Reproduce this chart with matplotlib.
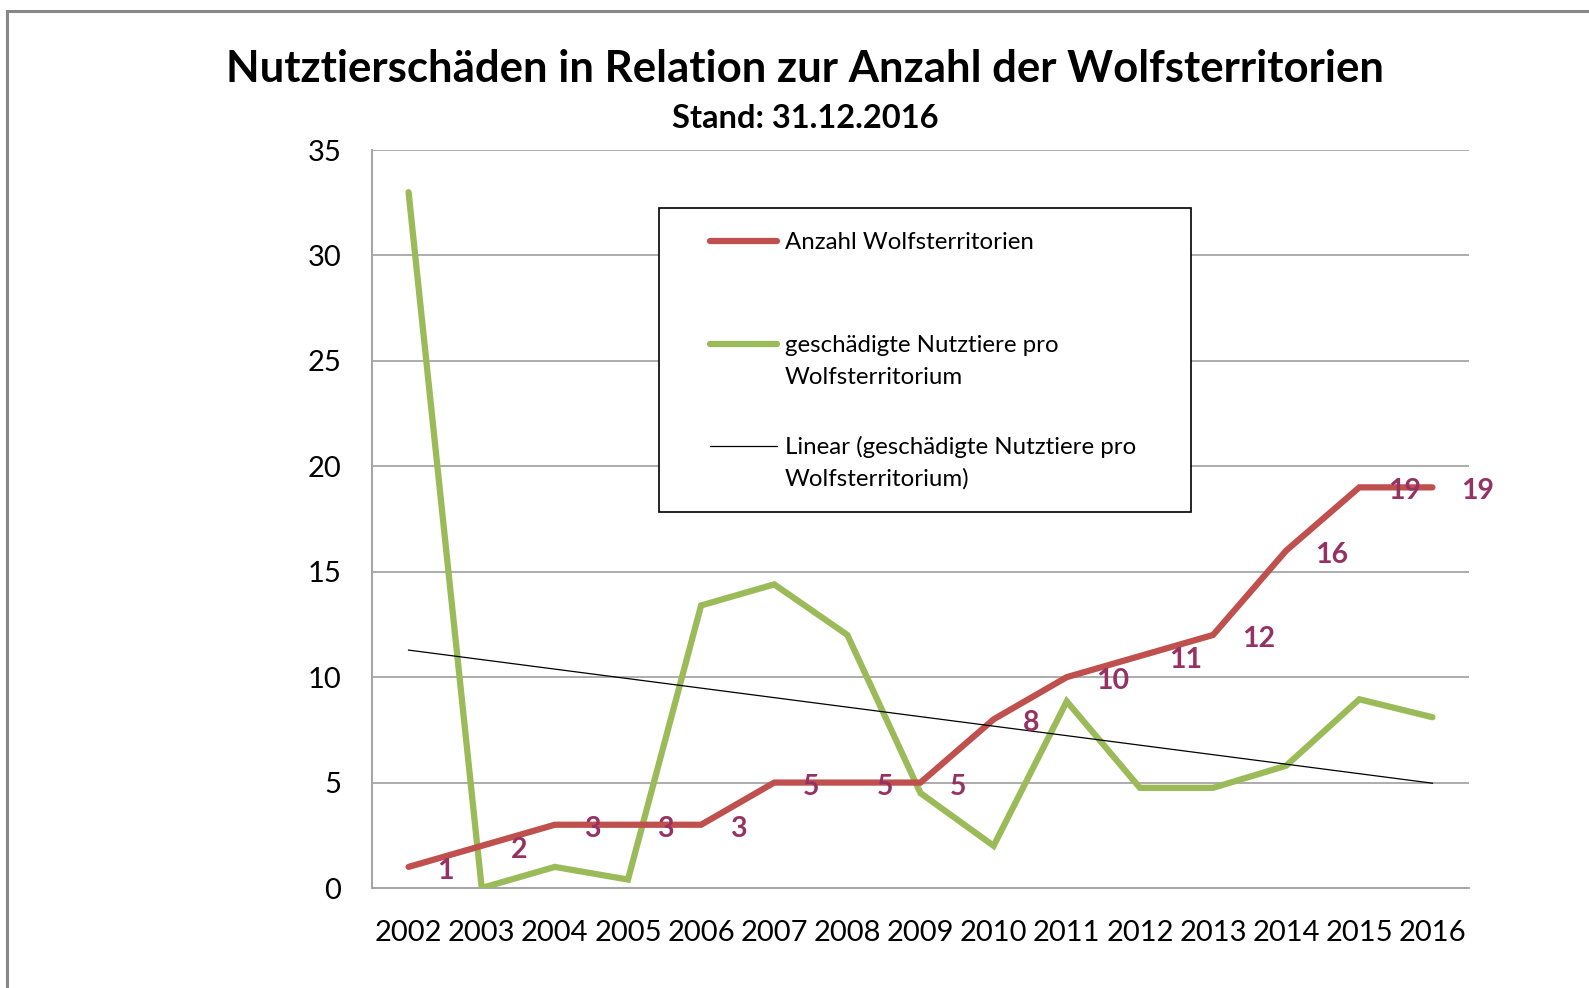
import numpy as np
import matplotlib.pyplot as plt
from matplotlib.patches import Rectangle
from matplotlib.lines import Line2D

plt.rcParams['font.family'] = ['Lato', 'DejaVu Sans']

years = [str(y) for y in range(2002, 2017)]
territorien = [1, 2, 3, 3, 3, 5, 5, 5, 8, 10, 11, 12, 16, 19, 19]
schaeden = [33.0, 0.0, 1.0, 0.4, 13.4, 14.4, 12.0, 4.5, 2.0, 8.85, 4.75, 4.75, 5.8, 8.95, 8.1]

RED = '#C0504D'
GREEN = '#9BBB59'
LABEL = '#953163'
GRID = '#a6a6a6'

x = np.arange(len(years))
slope, icpt = np.polyfit(x, schaeden, 1)
trend = slope * x + icpt

fig = plt.figure(figsize=(15.89, 9.88), dpi=100)
fig.patch.set_facecolor('white')


def fx(px):
    return px / 1589


def fy(py):
    return 1 - py / 988


# outer frame (only top and left visible in the crop)
fig.add_artist(Line2D([fx(7), fx(7)], [0, fy(11)], transform=fig.transFigure,
                      color='#888888', lw=2.2))
fig.add_artist(Line2D([fx(7), 1], [fy(11), fy(11)], transform=fig.transFigure,
                      color='#888888', lw=2.2))

ax = fig.add_axes([fx(372), fy(888), 1097/1589, 738/988])
ax.set_xlim(-0.5, len(years) - 0.5)
ax.set_ylim(0, 35)
ax.set_yticks(range(0, 36, 5))
ax.set_xticks(x)
ax.set_xticklabels(years)
ax.tick_params(axis='both', length=0, labelsize=21, colors='#000000')
ax.tick_params(axis='y', pad=22)
ax.tick_params(axis='x', pad=23)
ax.grid(axis='y', color=GRID, lw=1.3)
ax.set_axisbelow(True)
for side in ['top', 'right']:
    ax.spines[side].set_visible(False)
for side in ['left', 'bottom']:
    ax.spines[side].set_color(GRID)
    ax.spines[side].set_linewidth(1.5)

ax.plot(x, schaeden, color=GREEN, lw=4.5, solid_capstyle='round', solid_joinstyle='miter', zorder=3)
ax.plot(x, territorien, color=RED, lw=4.5, solid_capstyle='round', solid_joinstyle='miter', zorder=4)
ax.plot(x, trend, color='black', lw=0.9, zorder=5)

for xi, v in zip(x, territorien):
    ax.annotate(str(v), (xi, v), xytext=(29, -4), textcoords='offset pixels',
                ha='left', va='center', fontsize=20.5, fontweight='bold',
                color=LABEL, zorder=6)

fig.text(fx(805), fy(69), 'Nutztierschäden in Relation zur Anzahl der Wolfsterritorien',
         ha='center', va='center', fontsize=31.5, fontweight='bold')
fig.text(fx(805), fy(118), 'Stand: 31.12.2016',
         ha='center', va='center', fontsize=23.5, fontweight='bold')

# legend box drawn by hand so handles align with first text line
fig.add_artist(Rectangle((fx(659), fy(512)), fx(1191) - fx(659), fy(208) - fy(512),
                         transform=fig.transFigure, facecolor='white',
                         edgecolor='black', lw=1.2, zorder=10))
legend_rows = [
    (RED, 4.5, 'Anzahl Wolfsterritorien', 241),
    (GREEN, 4.5, 'geschädigte Nutztiere pro\nWolfsterritorium', 344),
    ('black', 0.9, 'Linear (geschädigte Nutztiere pro\nWolfsterritorium)', 446),
]
for col, lw, label, py in legend_rows:
    fig.add_artist(Line2D([fx(710), fx(777)], [fy(py), fy(py)], transform=fig.transFigure,
                          color=col, lw=lw, solid_capstyle='round', zorder=11))
    first, *rest = label.split('\n')
    fig.text(fx(785), fy(py + 8), first, ha='left', va='baseline', fontsize=17.3, zorder=11)
    for i, line in enumerate(rest, start=1):
        fig.text(fx(785), fy(py + 8 + 32 * i), line, ha='left', va='baseline',
                 fontsize=17.3, zorder=11)

fig.savefig('out.png', dpi=100, facecolor='white')
